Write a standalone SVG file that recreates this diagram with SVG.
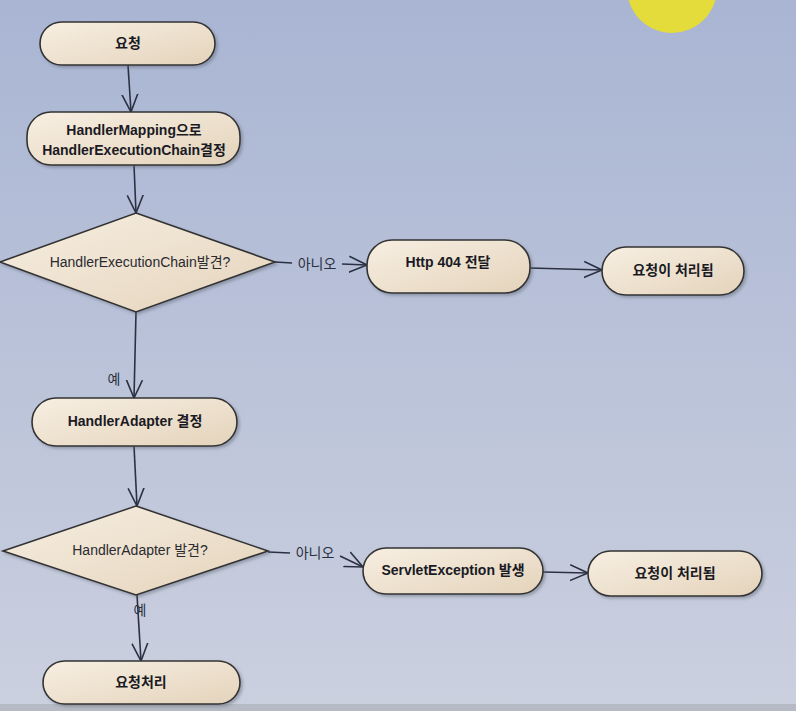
<svg xmlns="http://www.w3.org/2000/svg" width="796" height="711" viewBox="0 0 796 711">
<defs>
<linearGradient id="bg" x1="0" y1="0" x2="0" y2="1">
<stop offset="0" stop-color="#a9b5d3"/>
<stop offset="1" stop-color="#cbd0df"/>
</linearGradient>
<linearGradient id="nf" x1="0" y1="0" x2="1" y2="1">
<stop offset="0" stop-color="#f7efe2"/>
<stop offset="1" stop-color="#e4d3bb"/>
</linearGradient>
<filter id="sh" x="-10%" y="-10%" width="125%" height="135%">
<feDropShadow dx="2" dy="2" stdDeviation="1.5" flood-color="#5a6070" flood-opacity="0.45"/>
</filter>
<marker id="ar" viewBox="0 0 20 20" refX="18" refY="10" markerWidth="20" markerHeight="20" markerUnits="userSpaceOnUse" orient="auto">
<path d="M0,2 L18,10 L0,18" fill="none" stroke="#2b3142" stroke-width="1.6"/>
</marker>
</defs>
<style>
.n{fill:url(#nf);stroke:#333;stroke-width:1.6;filter:url(#sh)}
.t{font-family:"Liberation Sans","Noto Sans CJK KR",sans-serif;font-size:14px;font-weight:bold;fill:#1a1a24;text-anchor:middle;dominant-baseline:central}
.d{font-family:"Liberation Sans","Noto Sans CJK KR",sans-serif;font-size:14px;fill:#2a2a30;text-anchor:middle;dominant-baseline:central}
.l{font-family:"Liberation Sans","Noto Sans CJK KR",sans-serif;font-size:14px;fill:#2a2f40;text-anchor:middle;dominant-baseline:central}
.c{fill:none;stroke:#2b3142;stroke-width:1.6;marker-end:url(#ar)}
.p{fill:none;stroke:#2b3142;stroke-width:1.6}
</style>
<rect width="796" height="711" fill="url(#bg)"/>
<rect y="704" width="796" height="7" fill="#b6bac4"/>
<circle cx="672" cy="-12" r="45" fill="#e3dc3a"/>
<g id="connectors">
<path class="c" d="M128,65 L131,112"/>
<path class="c" d="M134,165 L136,213"/>
<path class="c" d="M136,312 L134,398"/>
<path class="c" d="M134,446 L137,506"/>
<path class="c" d="M137,595 L141,661"/>
<path class="p" d="M275,262 L292,263"/>
<path class="c" d="M342,264 L367,265"/>
<path class="c" d="M530,268 L602,270"/>
<path class="p" d="M268,552 L290,553"/>
<path class="c" d="M340,556 L363,567"/>
<path class="c" d="M543,572 L588,573"/>
<text class="l" x="317" y="264">아니오</text>
<text class="l" x="315" y="553">아니오</text>
<text class="l" x="114" y="379">예</text>
<text class="l" x="140" y="610">예</text>
</g>
<g id="n1"><rect class="n" x="40" y="22" width="175" height="43" rx="21.5"/><text class="t" x="128" y="43">요청</text></g>
<g id="n2"><rect class="n" x="27" y="112" width="213" height="53" rx="24"/><text class="t" x="134" y="130">HandlerMapping으로</text><text class="t" x="134" y="150">HandlerExecutionChain결정</text></g>
<g id="d1"><polygon class="n" points="136,213 275,262 136,312 0,262"/><text class="d" x="140" y="262">HandlerExecutionChain발견?</text></g>
<g id="n3"><rect class="n" x="367" y="240" width="163" height="53" rx="25"/><text class="t" x="448" y="262">Http 404 전달</text></g>
<g id="n4"><rect class="n" x="602" y="247" width="142" height="48" rx="24"/><text class="t" x="673" y="270">요청이 처리됨</text></g>
<g id="n5"><rect class="n" x="32" y="398" width="205" height="48" rx="24"/><text class="t" x="135" y="421">HandlerAdapter 결정</text></g>
<g id="d2"><polygon class="n" points="136,506 268,551 136,595 3,551"/><text class="d" x="140" y="550">HandlerAdapter 발견?</text></g>
<g id="n6"><rect class="n" x="363" y="548" width="180" height="46" rx="23"/><text class="t" x="453" y="570">ServletException 발생</text></g>
<g id="n7"><rect class="n" x="588" y="551" width="174" height="45" rx="22.5"/><text class="t" x="675" y="573">요청이 처리됨</text></g>
<g id="n8"><rect class="n" x="43" y="661" width="197" height="43" rx="21.5"/><text class="t" x="141" y="682">요청처리</text></g>
</svg>
